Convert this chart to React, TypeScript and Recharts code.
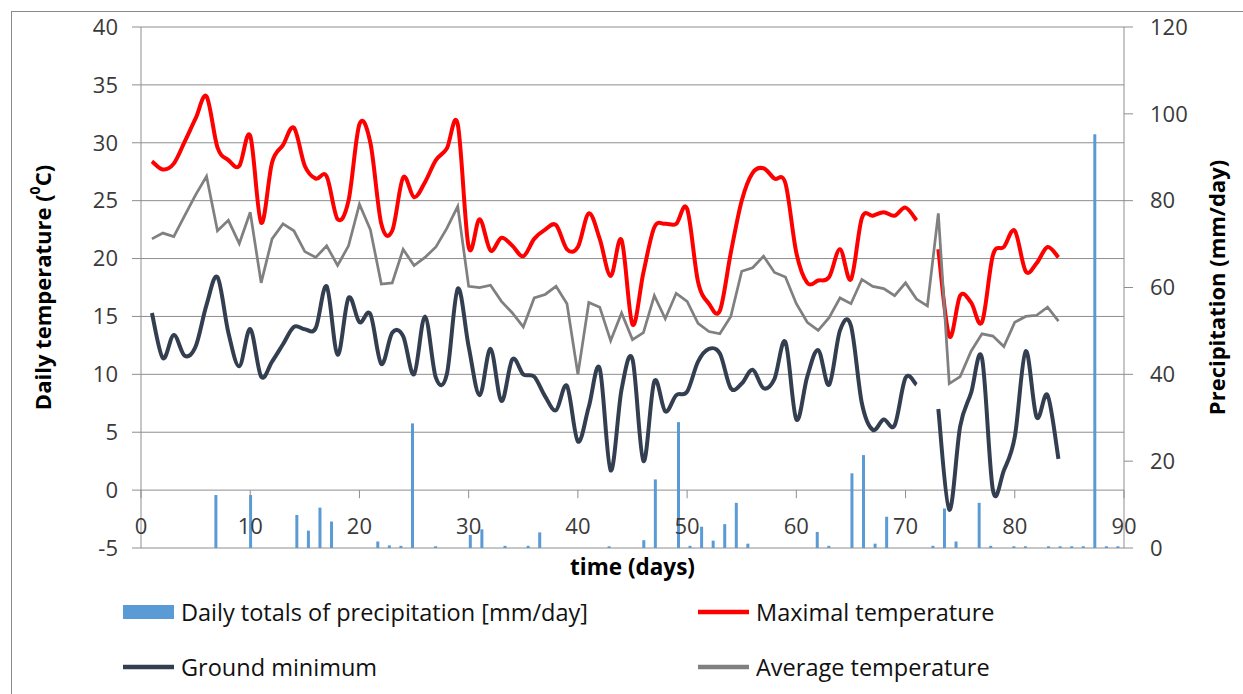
import {
  ComposedChart,
  Bar,
  Line,
  XAxis,
  YAxis,
  CartesianGrid,
  ReferenceLine,
  Legend,
  Label,
} from "recharts";

// Precipitation slots 1..85 (mm/day)
const rainfall = [
  0, 0, 0, 0, 0, 0, 12.2, 0, 0, 12.2,
  0, 0, 0, 7.6, 4.0, 9.3, 6.1, 0, 0, 0,
  1.5, 0.6, 0.5, 28.7, 0, 0.4, 0, 0, 3.0, 4.3,
  0, 0.5, 0, 0.5, 3.6, 0, 0, 0, 0, 0,
  0.4, 0, 0, 1.8, 15.8, 0, 29.0, 0.5, 4.9, 1.7,
  5.5, 10.4, 1.0, 0, 0, 0, 0, 0, 3.7, 0.5,
  0, 17.2, 21.4, 1.0, 7.2, 0, 0, 0, 0.5, 9.1,
  1.5, 0, 10.4, 0.5, 0, 0.4, 0.4, 0, 0.4, 0.4,
  0.4, 0.4, 95.3, 0.4, 0.4,
];

// Daily temperatures, days 1..84 (day 72 missing for max and ground min)
const maxTemp = [
  28.4, 27.7, 28.2, 30.1, 32.1, 34.0, 29.6, 28.5, 28.0, 30.6,
  23.1, 28.3, 29.8, 31.3, 28.0, 26.9, 27.1, 23.4, 25.0, 31.6,
  30.0, 23.0, 22.4, 27.0, 25.3, 26.6, 28.5, 29.5, 31.6, 21.0,
  23.4, 20.7, 21.8, 21.1, 20.2, 21.7, 22.5, 22.9, 20.8, 21.0,
  23.9, 21.7, 18.5, 21.6, 14.3, 18.8, 22.7, 23.0, 23.0, 24.3,
  18.0, 16.1, 15.5, 20.5, 25.0, 27.4, 27.8, 26.9, 26.5, 20.5,
  17.9, 18.1, 18.4, 20.8, 18.2, 23.5, 23.7, 24.0, 23.7, 24.4,
  23.3, null, 20.8, 13.3, 16.8, 16.2, 14.5, 20.3, 21.0, 22.4,
  18.9, 19.6, 21.0, 20.1,
];

const groundMin = [
  15.3, 11.4, 13.4, 11.6, 12.4, 16.0, 18.4, 13.6, 10.7, 13.9,
  9.8, 11.1, 12.6, 14.1, 13.9, 14.0, 17.6, 11.7, 16.6, 14.5,
  15.2, 10.9, 13.6, 13.3, 10.0, 15.0, 9.7, 10.0, 17.4, 12.4,
  8.2, 12.2, 7.7, 11.3, 10.0, 9.8, 8.1, 6.9, 9.0, 4.2,
  7.2, 10.5, 1.7, 8.7, 11.3, 2.5, 9.4, 6.8, 8.2, 8.5,
  11.1, 12.2, 11.8, 8.8, 9.2, 10.4, 8.8, 9.6, 12.8, 6.1,
  9.8, 12.1, 9.1, 13.8, 14.2, 7.5, 5.2, 6.1, 5.6, 9.7,
  9.1, null, 7.0, -1.7, 5.5, 8.4, 11.4, 0.0, 1.7, 4.6,
  12.0, 6.3, 8.2, 2.7,
];

const avgTemp = [
  21.7, 22.2, 21.9, 23.7, 25.5, 27.1, 22.4, 23.3, 21.3, 24.0,
  17.9, 21.7, 23.0, 22.4, 20.6, 20.1, 21.1, 19.4, 21.1, 24.7,
  22.5, 17.8, 17.9, 20.8, 19.4, 20.1, 21.0, 22.6, 24.5, 17.6,
  17.5, 17.7, 16.3, 15.3, 14.1, 16.6, 16.9, 17.6, 16.1, 10.0,
  16.2, 15.8, 12.9, 15.3, 13.0, 13.6, 16.8, 14.8, 17.0, 16.3,
  14.4, 13.7, 13.5, 15.0, 18.9, 19.2, 20.2, 18.8, 18.4, 16.1,
  14.5, 13.8, 14.9, 16.6, 16.1, 18.2, 17.6, 17.4, 16.8, 17.9,
  16.5, 15.9, 23.9, 9.2, 9.8, 12.0, 13.5, 13.3, 12.4, 14.5,
  15.0, 15.1, 15.8, 14.6,
];

const dayTicks = [0, 10, 20, 30, 40, 50, 60, 70, 80, 90];
const tempTicks = [-5, 0, 5, 10, 15, 20, 25, 30, 35, 40];
const rainTicks = [0, 20, 40, 60, 80, 100, 120];

const legendOrder = [
  "Daily totals of precipitation [mm/day]",
  "Maximal temperature",
  "Ground minimum",
  "Average temperature",
];

const data = rainfall.map((rain, i) => ({
  day: i + 1,
  rain,
  tmax: maxTemp[i] ?? null,
  tmin: groundMin[i] ?? null,
  tavg: avgTemp[i] ?? null,
}));

const GRID = "#8e8e8e";
const TICK_TEXT = "#3a3a3a";

// Catmull-Rom style smoothing, like a spreadsheet "smoothed line"
const smoothCurve = (context: any) => {
  let pts: number[][] = [];
  return {
    areaStart() {},
    areaEnd() {},
    lineStart() {
      pts = [];
    },
    point(x: number, y: number) {
      pts.push([+x, +y]);
    },
    lineEnd() {
      if (!pts.length) return;
      context.moveTo(pts[0][0], pts[0][1]);
      for (let i = 0; i < pts.length - 1; i++) {
        const p0 = pts[Math.max(i - 1, 0)];
        const p1 = pts[i];
        const p2 = pts[i + 1];
        const p3 = pts[Math.min(i + 2, pts.length - 1)];
        context.bezierCurveTo(
          p1[0] + (p2[0] - p0[0]) / 6,
          p1[1] + (p2[1] - p0[1]) / 6,
          p2[0] - (p3[0] - p1[0]) / 6,
          p2[1] - (p3[1] - p1[1]) / 6,
          p2[0],
          p2[1]
        );
      }
    },
  };
};

const DayTick = ({ x, y, payload }: any) => (
  <text
    x={x}
    y={y - 23}
    textAnchor="middle"
    dominantBaseline="central"
    fontSize={22}
    fill={TICK_TEXT}
  >
    {payload.value}
  </text>
);

const renderTempTitle = ({ viewBox }: any) => {
  const cx = viewBox.x + 32;
  const cy = viewBox.y + viewBox.height / 2;
  return (
    <text
      x={cx}
      y={cy}
      transform={`rotate(-90 ${cx} ${cy})`}
      textAnchor="middle"
      dominantBaseline="central"
      fontSize={22}
      fontWeight="bold"
      fill="#000"
    >
      Daily temperature (<tspan dy={-8} fontSize={14}>0</tspan>
      <tspan dy={8}>C)</tspan>
    </text>
  );
};

const renderRainTitle = ({ viewBox }: any) => {
  const cx = viewBox.x + 92;
  const cy = viewBox.y + viewBox.height / 2;
  return (
    <text
      x={cx}
      y={cy}
      transform={`rotate(-90 ${cx} ${cy})`}
      textAnchor="middle"
      dominantBaseline="central"
      fontSize={22}
      fontWeight="bold"
      fill="#000"
    >
      Precipitation (mm/day)
    </text>
  );
};

const renderTimeTitle = ({ viewBox }: any) => (
  <text
    x={viewBox.x + viewBox.width / 2}
    y={viewBox.y + 18}
    textAnchor="middle"
    dominantBaseline="central"
    fontSize={22.5}
    fontWeight="bold"
    fill="#000"
  >
    time (days)
  </text>
);

const LegendBox = ({ payload }: any) => {
  const items = [...(payload || [])].sort(
    (a: any, b: any) => legendOrder.indexOf(a.value) - legendOrder.indexOf(b.value)
  );
  return (
    <div
      style={{
        display: "grid",
        gridTemplateColumns: "575px 575px",
        gridAutoRows: "55px",
        paddingLeft: 123,
      }}
    >
      {items.map((item: any) => (
        <div key={item.value} style={{ display: "flex", alignItems: "center" }}>
          <svg width={52} height={16} style={{ marginRight: 6 }}>
            {item.type === "rect" ? (
              <rect x={0} y={1} width={51} height={14} fill={item.color} />
            ) : (
              <line x1={0} x2={51} y1={8} y2={8} stroke={item.color} strokeWidth={4.5} />
            )}
          </svg>
          <span style={{ fontSize: 23.5, color: "#111", whiteSpace: "nowrap" }}>
            {item.value}
          </span>
        </div>
      ))}
    </div>
  );
};

export default function App() {
  return (
    <div
      style={{
        position: "fixed",
        left: 0,
        top: 0,
        width: 1243,
        height: 694,
        overflow: "hidden",
        background: "#fff",
        fontFamily: "'Open Sans', sans-serif",
      }}
    >
      <div
        style={{
          position: "absolute",
          left: 11,
          top: 11,
          width: 1400,
          height: 900,
          borderLeft: "1px solid #8a8a8a",
          borderTop: "1px solid #8a8a8a",
        }}
      />
      <div style={{ position: "absolute", left: 0, top: 0 }}>
        <ComposedChart
          width={1243}
          height={694}
          data={data}
          margin={{ top: 27, right: 10, bottom: 116, left: 10 }}
        >
          <CartesianGrid
            xAxisId="days"
            yAxisId="temp"
            vertical={false}
            stroke={GRID}
            strokeWidth={1}
          />
          <XAxis
            xAxisId="days"
            dataKey="day"
            type="number"
            domain={[0, 90]}
            ticks={dayTicks}
            height={30}
            axisLine={false}
            tickLine={false}
            tickSize={0}
            tickMargin={0}
            tick={<DayTick />}
            interval={0}
          >
            <Label content={renderTimeTitle} />
          </XAxis>
          <XAxis xAxisId="rain" dataKey="day" type="category" hide />
          <YAxis
            yAxisId="temp"
            domain={[-5, 40]}
            ticks={tempTicks}
            width={131}
            interval={0}
            axisLine={{ stroke: GRID }}
            tickLine={{ stroke: GRID }}
            tickSize={9}
            tickMargin={14}
            tick={{ fill: TICK_TEXT, fontSize: 22 }}
          >
            <Label content={renderTempTitle} />
          </YAxis>
          <YAxis
            yAxisId="rain"
            orientation="right"
            domain={[0, 120]}
            ticks={rainTicks}
            width={109}
            interval={0}
            axisLine={{ stroke: GRID }}
            tickLine={{ stroke: GRID }}
            tickSize={9}
            tickMargin={17}
            tick={{ fill: TICK_TEXT, fontSize: 22 }}
          >
            <Label content={renderRainTitle} />
          </YAxis>

          {/* small tick marks hanging below the 0 °C line */}
          {dayTicks.map((t) => (
            <ReferenceLine
              key={t}
              xAxisId="days"
              yAxisId="temp"
              segment={[
                { x: t, y: 0 },
                { x: t, y: -0.7 },
              ]}
              stroke={GRID}
              ifOverflow="visible"
            />
          ))}

          <Bar
            xAxisId="rain"
            yAxisId="rain"
            dataKey="rain"
            name="Daily totals of precipitation [mm/day]"
            fill="#5B9BD5"
            barSize={3}
            legendType="rect"
            isAnimationActive={false}
          />
          <Line
            xAxisId="days"
            yAxisId="temp"
            dataKey="tmax"
            name="Maximal temperature"
            type={smoothCurve as any}
            stroke="#FF0000"
            strokeWidth={4}
            dot={false}
            activeDot={false}
            legendType="line"
            isAnimationActive={false}
          />
          <Line
            xAxisId="days"
            yAxisId="temp"
            dataKey="tmin"
            name="Ground minimum"
            type={smoothCurve as any}
            stroke="#333F50"
            strokeWidth={4}
            dot={false}
            activeDot={false}
            legendType="line"
            isAnimationActive={false}
          />
          <Line
            xAxisId="days"
            yAxisId="temp"
            dataKey="tavg"
            name="Average temperature"
            type="linear"
            stroke="#808080"
            strokeWidth={2.75}
            dot={false}
            activeDot={false}
            legendType="line"
            isAnimationActive={false}
          />
          <Legend
            layout="horizontal"
            verticalAlign="middle"
            align="center"
            content={<LegendBox />}
            wrapperStyle={{ left: 0, top: 584, width: 1243, height: 110 }}
          />
        </ComposedChart>
      </div>
    </div>
  );
}
